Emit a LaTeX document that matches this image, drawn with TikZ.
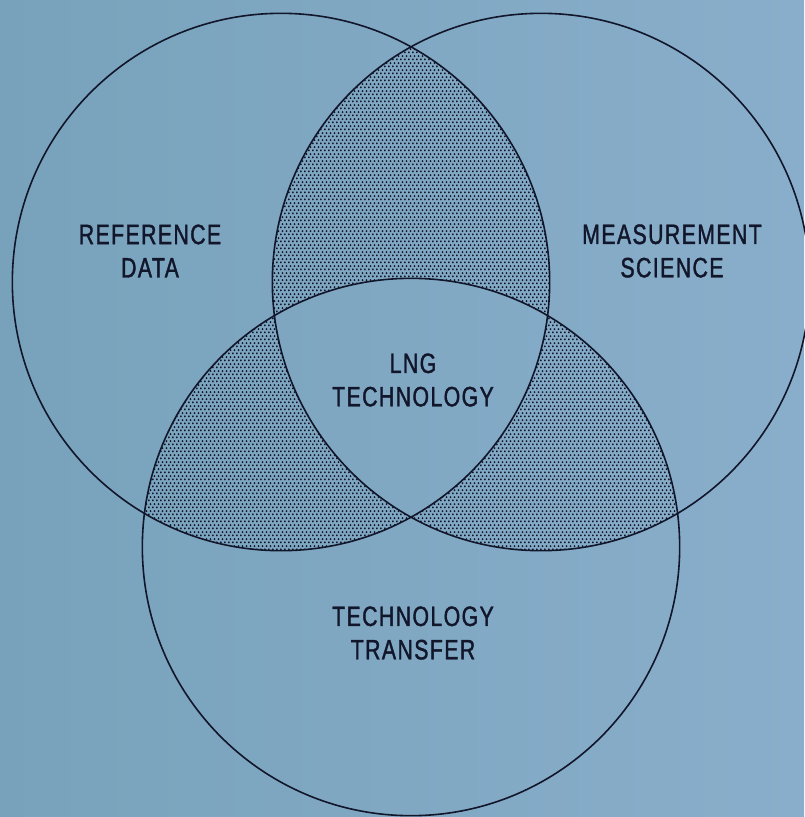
\documentclass[tikz,border=0pt]{standalone}
\usepackage{fontspec}
\setmainfont[FakeStretch=0.76,LetterSpace=5,FakeBold=1.3]{Liberation Sans}
\usetikzlibrary{patterns.meta}
\definecolor{bgL}{RGB}{120,162,187}
\definecolor{bgR}{RGB}{137,174,203}
\definecolor{ink}{RGB}{18,22,42}
\tikzdeclarepattern{
  name=stip,
  type=uncolored,
  bounding box={(0pt,0pt) and (3.1pt,5.4pt)},
  tile size={(3.1pt,5.4pt)},
  code={
    \fill (0.775pt,1.35pt) circle (0.9pt);
    \fill (2.325pt,4.05pt) circle (0.9pt);
  }
}
\tikzset{
  ring/.style={draw=ink, line width=1.2pt},
  stipfill/.style={pattern={stip}, pattern color=ink},
  lbl/.style={align=center, text=ink, font=\fontsize{21pt}{25pt}\selectfont, inner sep=0pt}
}
\begin{document}
\begin{tikzpicture}[x=0.75pt,y=-0.75pt]
  \shade[left color=bgL, right color=bgR] (0,0) rectangle (804,817);
  \useasboundingbox (0,0) rectangle (804,817);
  \coordinate (A) at (281,282);
  \coordinate (B) at (541,282);
  \coordinate (C) at (411,547);
  \def\R{201.5pt}
  % stippled regions: points lying in exactly two circles
  \begin{scope}
    \clip (A) circle[radius=\R];
    \fill[stipfill, even odd rule] (B) circle[radius=\R] (C) circle[radius=\R];
  \end{scope}
  \begin{scope}
    \clip (B) circle[radius=\R];
    \clip (C) circle[radius=\R];
    \fill[stipfill, even odd rule] (-20,-20) rectangle (830,840) (A) circle[radius=\R];
  \end{scope}
  \draw[ring] (A) circle[radius=\R];
  \draw[ring] (B) circle[radius=\R];
  \draw[ring] (C) circle[radius=\R];
  \node[lbl] (ref) at (150,251) {REFERENCE\\DATA};
  \node[lbl] (meas) at (672,251) {MEASUREMENT\\SCIENCE};
  \node[lbl] (lng) at (413,380) {LNG\\TECHNOLOGY};
  \node[lbl] (tt) at (413,633) {TECHNOLOGY\\TRANSFER};
\end{tikzpicture}
\end{document}
